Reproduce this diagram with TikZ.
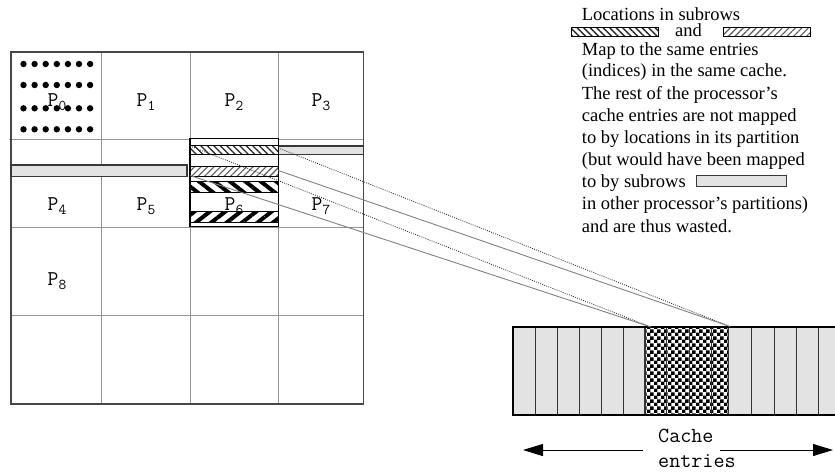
\documentclass[tikz,border=0pt]{standalone}
\usepackage{fontspec}
\setmainfont{Liberation Serif}
\usetikzlibrary{patterns.meta,arrows.meta}
\tikzdeclarepattern{
  name=checks,
  type=uncolored,
  bounding box={(0pt,0pt) and (6.6pt,6.6pt)},
  tile size={(6.6pt,6.6pt)},
  code={
    \fill (0pt,0pt) rectangle (3.6pt,3.6pt);
    \fill (3.3pt,3.3pt) rectangle (6.9pt,6.9pt);
  }
}
\tikzset{
  gridline/.style={draw=black!42, line width=1pt},
  frameline/.style={draw=black!72, line width=1.6pt},
  graybar/.style={fill=black!11, draw=black!78, line width=1.2pt},
  colbox/.style={draw=black, line width=1.4pt},
  lightnw/.style={pattern={Lines[angle=-45,distance=4.6pt,line width=1.3pt]}, pattern color=black!85, draw=black, line width=1pt},
  lightne/.style={pattern={Lines[angle=45,distance=4.6pt,line width=1.1pt]}, pattern color=black!65, draw=black, line width=1pt},
  boldnw/.style={pattern={Lines[angle=-38,distance=9.5pt,line width=4pt]}, pattern color=black, draw=black, line width=1pt},
  boldne/.style={pattern={Lines[angle=38,distance=9.5pt,line width=4pt]}, pattern color=black, draw=black, line width=1pt},
  plabel/.style={font=\ttfamily\fontsize{21}{21}\selectfont, inner sep=0pt, anchor=base},
  body/.style={font=\fontsize{18.5}{22}\selectfont, inner sep=0pt, anchor=base west},
  cachetext/.style={font=\ttfamily\fontsize{21.5}{22}\selectfont, inner sep=0pt, anchor=base west},
  solidlink/.style={draw=black!50, line width=0.9pt},
  dotlink/.style={draw=black!85, line width=0.8pt, dash pattern=on 0.9pt off 1.3pt},
  cellsep/.style={draw=black!80, line width=1.3pt},
  cachebox/.style={draw=black, line width=2pt},
  dotmark/.style={fill=black},
}
\newcommand{\plab}[1]{P\raisebox{-4pt}{\fontsize{15}{15}\selectfont #1}}
\begin{document}
\begin{tikzpicture}[x=1pt,y=-1pt]
\useasboundingbox (0,0) rectangle (835,472);

% ---------- grid ----------
\foreach \xx in {101.7,190,278.3} \draw[gridline] (\xx,51.7) -- (\xx,403.7);
\draw[gridline] (9,139.3) -- (363.5,139.3);
\foreach \yy in {227,315.3} \draw[gridline] (11,\yy) -- (363.5,\yy);
\draw[frameline] (11,51.7) rectangle (363.5,403.7);

% dots in P0
\foreach \r in {64,85,108.3,129.3}
  \foreach \c in {0,...,6}
    \fill[dotmark] (23.5+\c*11.1,\r) circle[radius=3.2pt];

% gray subrow bars
\draw[graybar] (11,165) rectangle (187,176.7);
\draw[graybar] (278.3,146) rectangle (363.5,154.3);

% P2/P6 column box with subrows
\fill[white] (190,138.3) rectangle (278.3,226.5);
\draw[lightnw] (190,145) rectangle (278.3,154);
\draw[lightne] (190,166) rectangle (278.3,176);
\draw[boldnw] (190,181) rectangle (278.3,192);
\draw[boldne] (190,211) rectangle (278.3,222);
\draw[colbox] (190,138.3) rectangle (278.3,226.5);

% labels
\node[plabel] (p0) at (57,106.5) {\plab{0}};
\node[plabel] (p1) at (146,106.5) {\plab{1}};
\node[plabel] (p2) at (234,106.5) {\plab{2}};
\node[plabel] (p3) at (321,106.5) {\plab{3}};
\node[plabel] (p4) at (57,210) {\plab{4}};
\node[plabel] (p5) at (146,210) {\plab{5}};
\node[plabel] (p6) at (234,210) {\plab{6}};
\node[plabel] (p7) at (321,210) {\plab{7}};
\node[plabel] (p8) at (57,285) {\plab{8}};

% ---------- cache ----------
\begin{scope}
\clip (0,0) rectangle (835,472);
\fill[black!11] (513.3,326.7) rectangle (845,415);
\fill[white] (645,326.7) rectangle (728.3,415);
\fill[pattern=checks, pattern color=black] (645,326.7) rectangle (728.3,415);
\foreach \xx in {535.7,557.3,579.3,601.7,623.3,645,666.7,689.3,711.7,728.3,751.7,774.3,796.7,818.3}
  \draw[cellsep] (\xx,326.7) -- (\xx,415);
\draw[cachebox] (845,326.7) -- (513.3,326.7) -- (513.3,415) -- (845,415);
\end{scope}

% connectors
\coordinate (aL) at (190,146);
\coordinate (aR) at (278.3,148);
\coordinate (bL) at (190,175.5);
\coordinate (bR) at (278.3,170.5);
\coordinate (cL) at (651,327);
\coordinate (cR) at (730,326.5);
\draw[dotlink] (aL) -- (cL);
\draw[solidlink] (bL) -- (cL);
\draw[dotlink] (aR) -- (cR);
\draw[solidlink] (bR) -- (cR);

% cache entries label and arrows
\node[cachetext] (cache) at (658,442.5) {Cache};
\node[cachetext] (entries) at (658,467) {entries};
\coordinate (arL0) at (643,450);
\coordinate (arL1) at (523,450);
\coordinate (arR0) at (720,450);
\coordinate (arR1) at (833,450);
\draw[line width=1pt,-{Triangle[length=20pt,width=12pt]}] (arL0) -- (arL1);
\draw[line width=1pt,-{Triangle[length=20pt,width=12pt]}] (arR0) -- (arR1);

% ---------- explanation text ----------
\node[body] (t1) at (581.7,20) {Locations in subrows};
\draw[lightnw, line width=0.9pt] (571.7,27.3) rectangle (658.3,36.7);
\node[body] (t2) at (675,36.7) {and};
\draw[lightne, line width=0.9pt] (723.3,27.3) rectangle (810.7,36.7);
\node[body] (t3) at (581.7,55) {Map to the same entries};
\node[body] (t4) at (581.7,76.8) {(indices) in the same cache.};
\node[body] (t5) at (581.7,99) {The rest of the processor’s};
\node[body] (t6) at (581.7,121) {cache entries are not mapped};
\node[body] (t7) at (581.7,143.2) {to by locations in its partition};
\node[body] (t8) at (581.7,165.4) {(but would have been mapped};
\node[body] (t9) at (581.7,187.6) {to by subrows};
\draw[graybar, line width=1pt] (696.7,175.5) rectangle (786,186.5);
\node[body] (t10) at (581.7,209.8) {in other processor’s partitions)};
\node[body] (t11) at (581.7,232) {and are thus wasted.};
\end{tikzpicture}
\end{document}
